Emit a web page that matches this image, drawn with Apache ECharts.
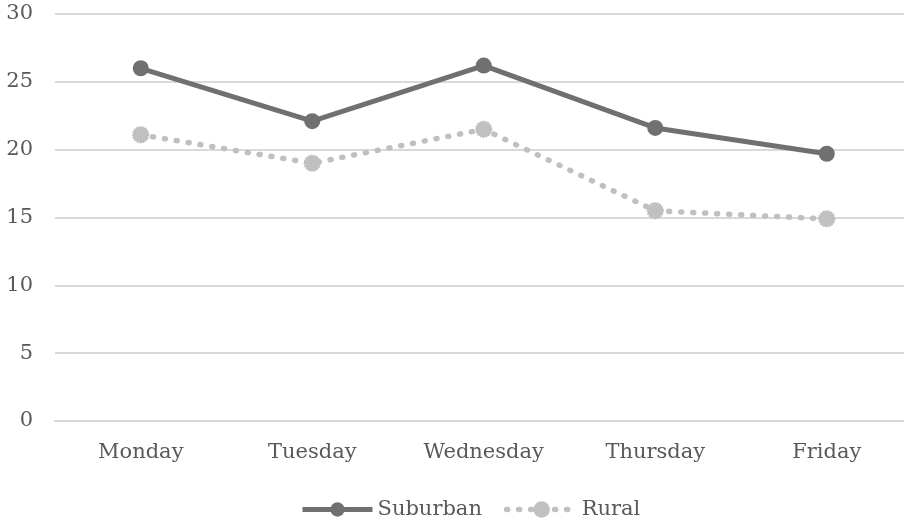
<!DOCTYPE html>
<html>
<head>
<meta charset="utf-8">
<script src="https://cdn.jsdelivr.net/npm/echarts@6/dist/echarts.min.js"></script>
<style>
  html, body { margin: 0; padding: 0; background: #ffffff; }
  #chart { width: 904px; height: 524px; }
</style>
</head>
<body>
<div id="chart"></div>
<script>
// Weekday categories and the two series plotted against them
const days = ['Monday', 'Tuesday', 'Wednesday', 'Thursday', 'Friday'];
const suburban = [26.0, 22.1, 26.2, 21.6, 19.7];
const rural = [21.1, 19.0, 21.5, 15.5, 14.9];

const FONT = 'DejaVu Serif';
const TEXT = '#595959';
const DARK = '#707070';
const LIGHT = '#c0c0c0';

const suburbanLine = { color: DARK, width: 5 };
const ruralLine = { color: LIGHT, width: 5.5, type: [1, 11], cap: 'round' };

const chart = echarts.init(document.getElementById('chart'), null, { renderer: 'canvas' });
chart.setOption({
  animation: false,
  backgroundColor: '#ffffff',
  textStyle: { fontFamily: FONT, color: TEXT },
  grid: {
    left: 55, top: 14, width: 857.5, height: 407,
    containLabel: false, outerBoundsMode: 'none'
  },
  legend: {
    top: 499,
    left: 300,
    padding: 0,
    itemWidth: 70,
    itemHeight: 18,
    itemGap: 22,
    textStyle: { fontFamily: FONT, fontSize: 21, color: TEXT },
    data: [
      { name: 'Suburban', lineStyle: suburbanLine, itemStyle: { color: DARK } },
      { name: 'Rural', lineStyle: ruralLine, itemStyle: { color: LIGHT } }
    ]
  },
  xAxis: {
    type: 'category',
    data: days,
    boundaryGap: true,
    axisLine: { show: true, lineStyle: { color: '#d9d9d9', width: 2 } },
    axisTick: { show: false },
    axisLabel: { fontFamily: FONT, fontSize: 21, color: TEXT, margin: 21 }
  },
  yAxis: {
    type: 'value',
    min: 0,
    max: 30,
    interval: 5,
    axisLine: { show: false },
    axisTick: { show: false },
    axisLabel: { fontFamily: FONT, fontSize: 21, color: TEXT, margin: 22 },
    splitLine: { lineStyle: { color: '#d9d9d9', width: 2 } }
  },
  series: [
    {
      name: 'Suburban',
      type: 'line',
      data: suburban,
      symbol: 'circle',
      symbolSize: 16,
      lineStyle: suburbanLine,
      itemStyle: { color: DARK }
    },
    {
      name: 'Rural',
      type: 'line',
      data: rural,
      symbol: 'circle',
      symbolSize: 16,
      lineStyle: ruralLine,
      itemStyle: { color: LIGHT, borderColor: LIGHT, borderWidth: 1.5, borderType: 'dotted' }
    }
  ]
});
</script>
</body>
</html>
